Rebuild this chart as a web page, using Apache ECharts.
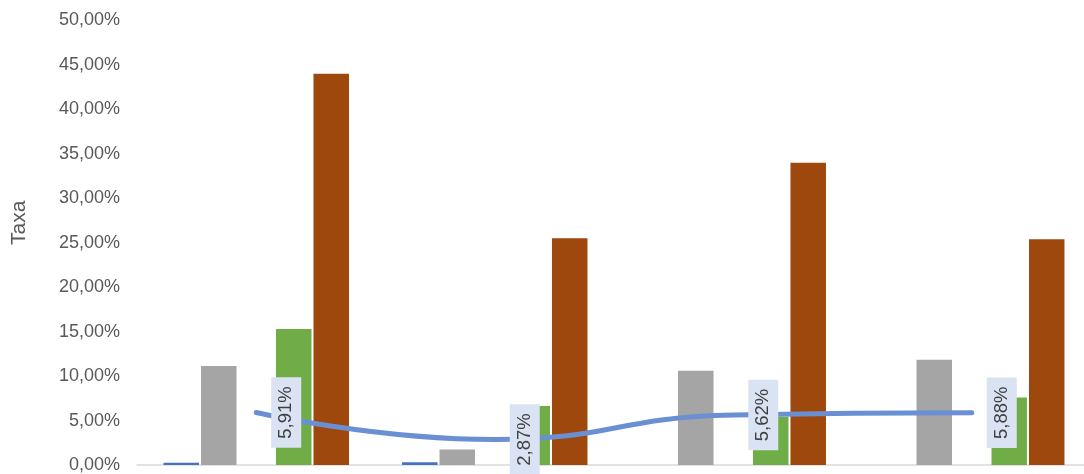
<!DOCTYPE html>
<html>
<head>
<meta charset="utf-8">
<script src="https://cdn.jsdelivr.net/npm/echarts@6/dist/echarts.min.js"></script>
<style>
html,body{margin:0;padding:0;background:#fff;overflow:hidden;width:1084px;height:474px;}
#chart{width:1091px;height:474px;}
</style>
</head>
<body>
<div id="chart"></div>
<script>
const categories = ['1', '2', '3', '4'];
const seriesBlue = [0.25, 0.3, 0, 0];
const seriesGray = [11.15, 1.75, 10.6, 11.85];
const seriesGreen = [15.3, 6.65, 5.4, 7.6];
const seriesBrown = [44.0, 25.5, 34.0, 25.4];
const lineValues = [5.91, 2.87, 5.62, 5.88];
const yTicks = { min: 0, max: 50, interval: 5 };

function fmt(v) { return v.toFixed(2).replace('.', ',') + '%'; }

const chart = echarts.init(document.getElementById('chart'));
const barCommon = { type: 'bar', barWidth: 35.5, barGap: '5.6%' };
chart.setOption({
  animation: false,
  grid: { left: 137, right: 0, top: 20.5, bottom: 8.5 },
  xAxis: {
    type: 'category',
    data: categories,
    axisLine: { lineStyle: { color: '#d9d9d9', width: 1.5 } },
    axisTick: { show: false },
    axisLabel: { show: false },
    splitLine: { show: false }
  },
  yAxis: {
    type: 'value',
    min: yTicks.min, max: yTicks.max, interval: yTicks.interval,
    name: 'Taxa',
    nameLocation: 'middle',
    nameGap: 107,
    nameTextStyle: { color: '#595959', fontSize: 21, fontFamily: 'Liberation Sans, Arial, sans-serif', padding: [0, 0, 0, 40] },
    axisLine: { show: false },
    axisTick: { show: false },
    splitLine: { show: false },
    axisLabel: {
      color: '#595959', fontSize: 18, fontFamily: 'Liberation Sans, Arial, sans-serif', margin: 17,
      formatter: fmt
    }
  },
  series: [
    Object.assign({ name: 'A', data: seriesBlue, itemStyle: { color: '#4472c4' } }, barCommon),
    Object.assign({ name: 'B', data: seriesGray, itemStyle: { color: '#a5a5a5' } }, barCommon),
    Object.assign({ name: 'gap', data: [null, null, null, null], itemStyle: { color: 'transparent' } }, barCommon),
    Object.assign({ name: 'C', data: seriesGreen, itemStyle: { color: '#70ad47' } }, barCommon),
    Object.assign({ name: 'D', data: seriesBrown, itemStyle: { color: '#9e480e' } }, barCommon),
    {
      name: 'Taxa média',
      type: 'line',
      data: lineValues,
      smooth: 0.5,
      symbol: 'circle',
      symbolSize: 1,
      itemStyle: { color: '#6a8fd3' },
      lineStyle: { color: '#6a8fd3', width: 5, cap: 'round' },
      z: 5,
      label: {
        show: true,
        position: 'inside',
        rotate: 90,
        offset: [0, 30],
        align: 'center',
        verticalAlign: 'middle',
        formatter: p => fmt(p.value),
        color: '#404040',
        fontSize: 18.5,
        fontFamily: 'Liberation Sans, Arial, sans-serif',
        backgroundColor: '#dae3f3',
        padding: [5, 9],
        lineHeight: 20
      }
    }
  ]
});
</script>
</body>
</html>
